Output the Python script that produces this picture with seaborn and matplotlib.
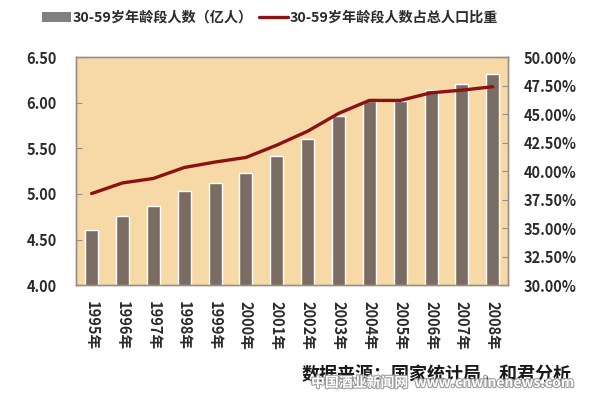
import numpy as np
import pandas as pd
import matplotlib
matplotlib.use("Agg")
import matplotlib.pyplot as plt
import matplotlib.patheffects as pe
from matplotlib.patches import Patch
from matplotlib.lines import Line2D
from matplotlib.ticker import FuncFormatter, FixedLocator
import seaborn as sns

# data
years = ["1995年", "1996年", "1997年", "1998年", "1999年", "2000年", "2001年",
         "2002年", "2003年", "2004年", "2005年", "2006年", "2007年", "2008年"]
people = [4.61, 4.76, 4.87, 5.03, 5.12, 5.23, 5.42, 5.60, 5.85, 6.02, 6.02, 6.14, 6.21, 6.31]
share = [38.04, 38.97, 39.36, 40.32, 40.80, 41.20, 42.28, 43.50, 45.06, 46.20, 46.20, 46.87, 47.10, 47.40]

bar_label = "30-59岁年龄段人数（亿人）"
line_label = "30-59岁年龄段人数占总人口比重"
source_text = "数据来源：国家统计局，和君分析"
watermark = "中国酒业新闻网  www.cnwinenews.com"

df = pd.DataFrame({"year": years, "people": people, "share": share})

sns.set_style("white")
plt.rcParams["font.family"] = ["Noto Sans CJK SC", "DejaVu Sans"]
plt.rcParams["font.weight"] = "bold"

BAR_COLOR = "#7a6c62"
LINE_COLOR = "#8b1212"
BG_COLOR = "#f7d9a8"
TEXT_COLOR = "#2b2b2b"

fig = plt.figure(figsize=(6.0, 3.99), dpi=100)
ax = fig.add_axes([0.127, 0.285, 0.72, 0.572])
ax.set_facecolor(BG_COLOR)

sns.barplot(data=df, x="year", y="people", color=BAR_COLOR, width=0.42,
            saturation=1, ax=ax)
ax.set_ylim(4.0, 6.5)
ax.set_yticks(np.arange(4.0, 6.51, 0.5))
ax.yaxis.set_major_formatter(FuncFormatter(lambda v, p: f"{v:.2f}"))
ax.set_xlim(-0.5, 13.5)
ax.set_xlabel("")
ax.set_ylabel("")

ax2 = ax.twinx()
sns.lineplot(data=df, x="year", y="share", color=LINE_COLOR, linewidth=2.4,
             ax=ax2, sort=False)
ax2.lines[0].set_solid_capstyle("round")
ax2.lines[0].set_solid_joinstyle("round")
ax2.set_ylim(30, 50)
ax2.set_yticks(np.arange(30, 50.01, 2.5))
ax2.yaxis.set_major_formatter(FuncFormatter(lambda v, p: f"{v:.2f}%"))
ax2.set_xlim(-0.5, 13.5)
ax2.set_ylabel("")
ax2.set_xlabel("")

for a in (ax, ax2):
    for s in a.spines.values():
        s.set_color("#9a8f86")
        s.set_linewidth(1.0)

ax.set_xticks(range(len(years)))
ax.set_xticklabels(years, rotation=-90, fontsize=10.5, fontweight="bold",
                   color=TEXT_COLOR)
ax.tick_params(axis="x", which="major", length=0, pad=11)
ax.xaxis.set_minor_locator(FixedLocator(np.arange(0.5, 13, 1.0)))
ax.tick_params(axis="x", which="minor", direction="in", length=4, color="#9a8f86")
ax.tick_params(axis="y", direction="in", length=4, color="#9a8f86",
               labelsize=10.5, labelcolor=TEXT_COLOR, pad=14)
ax2.tick_params(axis="y", direction="in", length=4, color="#9a8f86",
                labelsize=10.5, labelcolor=TEXT_COLOR, pad=11)
for lbl in ax.get_yticklabels() + ax2.get_yticklabels():
    lbl.set_fontweight("bold")

handles = [Patch(facecolor="#808080", edgecolor="none"),
           Line2D([0], [0], color=LINE_COLOR, linewidth=2.4)]
fig.legend(handles, [bar_label, line_label], loc="center", ncol=2,
           bbox_to_anchor=(0.45, 0.955), frameon=False, handlelength=2.0,
           handleheight=0.8, handletextpad=0.1, columnspacing=0.5,
           prop={"size": 10.2, "weight": "bold"}, labelcolor=TEXT_COLOR)

fig.text(0.952, 0.06, source_text, ha="right", va="center", fontsize=13,
         fontweight="bold", color="#1a1a1a")
fig.text(0.958, 0.04, watermark, ha="right", va="center", fontsize=10,
         fontweight="bold", color="white",
         path_effects=[pe.withStroke(linewidth=1.5, foreground="#9a9a9a")])

fig.savefig("out.png", dpi=100, facecolor="white")
